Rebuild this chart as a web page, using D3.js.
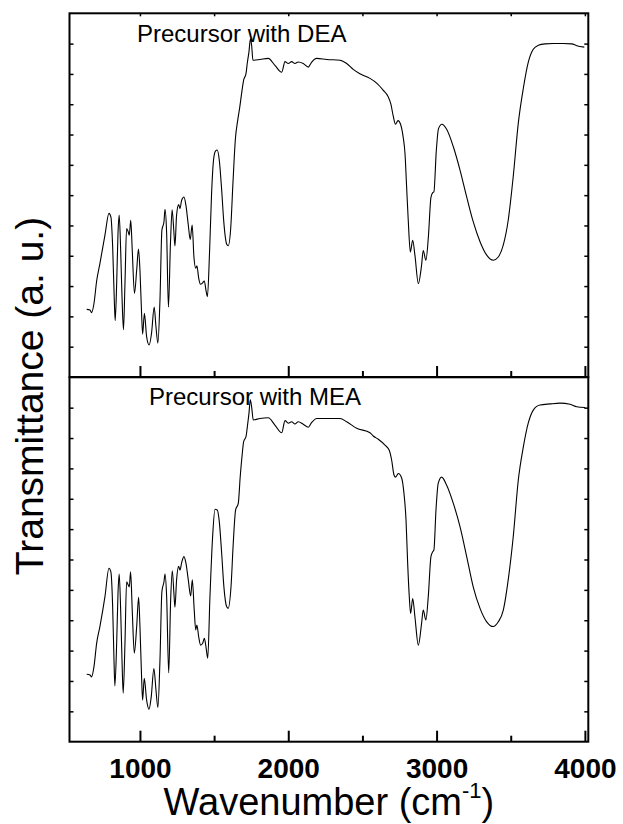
<!DOCTYPE html>
<html>
<head>
<meta charset="utf-8">
<script src="https://cdn.jsdelivr.net/npm/d3@7"></script>
<style>
  body { margin: 0; background: #fff; }
  svg { display: block; font-family: "Liberation Sans", Arial, sans-serif; }
</style>
</head>
<body>
<div id="chart"></div>
<script>
// FTIR spectra (wavenumber in cm-1, transmittance in a.u. 0-100 of panel)
const wnDEA = [
  641, 663, 674, 690, 708, 730, 764, 791, 804, 816,
  827, 833, 843, 852, 860, 870, 879, 889, 899, 910,
  921, 928, 938, 948, 963, 978, 990, 1000, 1011, 1018,
  1030, 1045, 1062, 1078, 1096, 1108, 1121, 1135, 1148, 1162,
  1169, 1180, 1192, 1206, 1217, 1228, 1236, 1247, 1261, 1270,
  1281, 1297, 1310, 1326, 1339, 1352, 1364, 1376, 1384, 1396,
  1408, 1421, 1434, 1445, 1455, 1469, 1483, 1496, 1509, 1521,
  1535, 1551, 1566, 1585, 1595, 1612, 1627, 1644, 1657, 1673,
  1690, 1699, 1715, 1724, 1735, 1745, 1753, 1762, 1809, 1865,
  1910, 1956, 1978, 2000, 2023, 2045, 2067, 2101, 2135, 2158,
  2192, 2259, 2349, 2394, 2438, 2483, 2551, 2596, 2641, 2672,
  2692, 2708, 2723, 2740, 2757, 2775, 2787, 2798, 2809, 2823,
  2839, 2854, 2877, 2899, 2910, 2928, 2945, 2962, 2974, 2982,
  2998, 3013, 3036, 3068, 3113, 3158, 3203, 3247, 3293, 3338,
  3382, 3416, 3450, 3483, 3517, 3551, 3585, 3618, 3652, 3686,
  3731, 3787, 3854, 3911, 3945, 3996
];
const tDEA = [
  18.6, 18.4, 17.7, 20.2, 26.4, 31.2, 39.0, 45.0, 44.0, 35.8,
  21.2, 15.5, 25.7, 39.5, 44.5, 34.9, 22.1, 13.0, 25.7, 40.8,
  39.9, 39.0, 43.1, 34.9, 23.0, 29.4, 35.2, 29.4, 17.5, 11.8,
  17.5, 11.1, 8.8, 12.0, 19.2, 13.8, 9.3, 21.2, 40.4, 42.7,
  46.1, 39.5, 19.2, 37.1, 46.0, 40.4, 36.0, 44.5, 47.4, 46.3,
  48.6, 49.5, 47.2, 41.8, 37.8, 41.8, 33.0, 29.9, 30.6, 27.2,
  25.5, 25.8, 26.4, 23.9, 22.1, 34.0, 50.5, 59.6, 62.1, 62.4,
  59.6, 51.4, 42.3, 36.5, 36.1, 40.9, 53.3, 65.7, 70.0, 74.2,
  79.3, 81.6, 83.4, 86.4, 89.4, 93.0, 91.2, 87.1, 87.3, 87.6,
  85.7, 83.8, 86.7, 86.2, 86.7, 86.2, 86.6, 86.2, 85.2, 86.6,
  87.6, 87.3, 87.1, 86.2, 84.6, 83.4, 82.1, 80.8, 78.8, 77.2,
  75.0, 71.7, 69.5, 70.5, 69.5, 65.9, 61.5, 52.3, 43.1, 34.4,
  37.6, 33.5, 25.7, 30.8, 34.8, 32.1, 38.7, 49.4, 50.7, 50.9,
  62.1, 68.3, 69.5, 68.1, 63.3, 56.9, 49.5, 42.7, 37.2, 33.5,
  32.1, 33.0, 36.3, 43.1, 55.2, 69.8, 79.4, 86.5, 90.1, 91.2,
  91.6, 91.7, 91.7, 91.6, 91.1, 90.7
];
const wnMEA = [
  641, 663, 674, 690, 708, 730, 764, 791, 804, 816,
  825, 831, 843, 852, 860, 870, 879, 887, 899, 910,
  921, 928, 937, 948, 962, 978, 991, 1000, 1011, 1018,
  1029, 1045, 1061, 1076, 1094, 1108, 1121, 1135, 1148, 1162,
  1169, 1180, 1194, 1207, 1218, 1229, 1236, 1247, 1261, 1270,
  1281, 1297, 1310, 1326, 1342, 1353, 1366, 1376, 1384, 1396,
  1409, 1423, 1434, 1445, 1457, 1472, 1490, 1506, 1521, 1535,
  1551, 1566, 1585, 1595, 1614, 1629, 1645, 1663, 1676, 1690,
  1699, 1715, 1724, 1735, 1744, 1753, 1764, 1809, 1865, 1910,
  1956, 1978, 2000, 2023, 2045, 2067, 2101, 2135, 2158, 2192,
  2259, 2349, 2394, 2461, 2551, 2573, 2607, 2652, 2681, 2697,
  2713, 2724, 2742, 2765, 2780, 2794, 2805, 2816, 2825, 2839,
  2854, 2877, 2899, 2910, 2928, 2944, 2962, 2974, 2982, 2996,
  3011, 3034, 3068, 3113, 3158, 3203, 3247, 3293, 3338, 3382,
  3416, 3450, 3483, 3517, 3551, 3585, 3618, 3652, 3697, 3765,
  3832, 3900, 3945, 4001
];
const tMEA = [
  18.5, 18.3, 17.8, 20.6, 27.0, 31.6, 39.8, 47.6, 46.6, 37.0,
  22.4, 15.3, 27.0, 40.7, 46.0, 36.1, 22.4, 13.3, 27.0, 43.9,
  43.0, 42.5, 46.6, 36.1, 24.3, 31.6, 39.6, 31.6, 17.8, 11.4,
  17.4, 11.4, 8.9, 12.3, 20.1, 14.2, 9.4, 22.4, 41.2, 43.9,
  46.0, 39.8, 18.9, 38.9, 46.9, 40.7, 36.9, 44.4, 48.1, 47.1,
  49.1, 50.8, 49.0, 44.4, 40.0, 44.4, 36.1, 30.7, 32.0, 28.8,
  26.5, 27.0, 28.4, 26.1, 22.9, 39.8, 56.3, 63.8, 63.6, 60.4,
  51.7, 42.5, 37.0, 36.6, 42.5, 54.4, 63.6, 65.4, 72.7, 79.1,
  82.3, 83.7, 86.4, 90.1, 93.8, 91.9, 88.3, 88.7, 88.9, 86.9,
  84.8, 88.1, 87.4, 87.8, 87.2, 87.8, 87.1, 86.3, 87.6, 88.7,
  88.7, 88.7, 87.8, 86.0, 84.8, 83.9, 83.0, 81.4, 80.0, 77.3,
  73.2, 72.6, 73.6, 72.3, 68.2, 60.8, 49.0, 39.8, 35.2, 39.3,
  34.3, 26.5, 32.5, 36.1, 33.4, 39.8, 50.8, 52.1, 52.6, 63.6,
  70.9, 72.6, 70.4, 65.4, 59.0, 50.8, 42.5, 36.6, 32.9, 31.6,
  32.9, 36.1, 44.4, 56.3, 71.8, 80.9, 87.4, 91.0, 92.4, 92.7,
  92.9, 92.6, 91.9, 91.7
];

const majorTicks = [1000, 2000, 3000, 4000];
const minorTicks = [1500, 2500, 3500];
const panelLabels = ["Precursor with DEA", "Precursor with MEA"];
const xTitle = "Wavenumber (cm";
const xTitleSup = "-1";
const yTitle = "Transmittance (a. u.)";

const width = 623;
const height = 824;
const left = 69.5;
const right = 588.3;

const panels = [
  { label: panelLabels[0], wn: wnDEA, t: tDEA, top: 13.3, bottom: 377, labelX: 137, labelY: 41.5, topTicks: true },
  { label: panelLabels[1], wn: wnMEA, t: tMEA, top: 377.3, bottom: 741.7, labelX: 149, labelY: 405, topTicks: false },
];

const x = d3.scaleLinear().domain([525, 4023]).range([left, right]);

const svg = d3
  .select("#chart")
  .append("svg")
  .attr("width", width)
  .attr("height", height);

svg.append("rect").attr("width", width).attr("height", height).attr("fill", "#fff");

const noDomain = (g) => g.select(".domain").remove();

panels.forEach((p) => {
  const y = d3.scaleLinear().domain([0, 100]).range([p.bottom, p.top]);
  const yTicks = d3.range(1, 12).map((i) => (i * 100) / 12);

  const line = d3
    .line()
    .x((d) => x(d[0]))
    .y((d) => y(d[1]))
    .curve(d3.curveMonotoneX);

  const g = svg.append("g");

  g.append("path")
    .datum(d3.zip(p.wn, p.t))
    .attr("fill", "none")
    .attr("stroke", "#000")
    .attr("stroke-width", 1.1)
    .attr("stroke-linejoin", "round")
    .attr("d", line);

  // inward ticks along the bottom edge
  g.append("g")
    .attr("transform", `translate(0,${p.bottom})`)
    .call(d3.axisTop(x).tickValues(majorTicks).tickSize(11).tickFormat(""))
    .call(noDomain)
    .selectAll("line")
    .attr("stroke-width", 2);

  g.append("g")
    .attr("transform", `translate(0,${p.bottom})`)
    .call(d3.axisTop(x).tickValues(minorTicks).tickSize(6).tickFormat(""))
    .call(noDomain)
    .selectAll("line")
    .attr("stroke-width", 2);

  if (p.topTicks) {
    g.append("g")
      .attr("transform", `translate(0,${p.top})`)
      .call(d3.axisBottom(x).tickValues(majorTicks.concat(minorTicks)).tickSize(3).tickFormat(""))
      .call(noDomain)
      .selectAll("line")
      .attr("stroke-width", 1.5);
  }

  g.append("g")
    .attr("transform", `translate(${left},0)`)
    .call(d3.axisRight(y).tickValues(yTicks).tickSize(4).tickFormat(""))
    .call(noDomain)
    .selectAll("line")
    .attr("stroke-width", 1.5);

  g.append("g")
    .attr("transform", `translate(${right},0)`)
    .call(d3.axisLeft(y).tickValues(yTicks).tickSize(4).tickFormat(""))
    .call(noDomain)
    .selectAll("line")
    .attr("stroke-width", 1.5);

  g.append("rect")
    .attr("x", left)
    .attr("y", p.top)
    .attr("width", right - left)
    .attr("height", p.bottom - p.top)
    .attr("fill", "none")
    .attr("stroke", "#000")
    .attr("stroke-width", 2);

  g.append("text")
    .attr("x", p.labelX)
    .attr("y", p.labelY)
    .attr("font-size", 24)
    .attr("fill", "#000")
    .text(p.label);
});

// tick labels
svg.append("g")
  .attr("transform", `translate(0,741.7)`)
  .call(d3.axisBottom(x).tickValues(majorTicks).tickSize(0).tickPadding(16).tickFormat(d3.format("d")))
  .call(noDomain)
  .selectAll("text")
  .attr("font-family", "'Liberation Sans', Arial, sans-serif")
  .attr("font-size", 28)
  .attr("font-weight", "bold")
  .attr("fill", "#000");

// axis titles
const xt = svg.append("text")
  .attr("x", (left + right) / 2)
  .attr("y", 815)
  .attr("text-anchor", "middle")
  .attr("font-size", 38)
  .attr("fill", "#000");
xt.append("tspan").text(xTitle);
xt.append("tspan").attr("font-size", 22).attr("dy", -17).text(xTitleSup);
xt.append("tspan").attr("dy", 17).text(")");

svg.append("text")
  .attr("transform", "translate(43,396)rotate(-90)")
  .attr("text-anchor", "middle")
  .attr("font-size", 39)
  .attr("fill", "#000")
  .text(yTitle);
</script>
</body>
</html>
